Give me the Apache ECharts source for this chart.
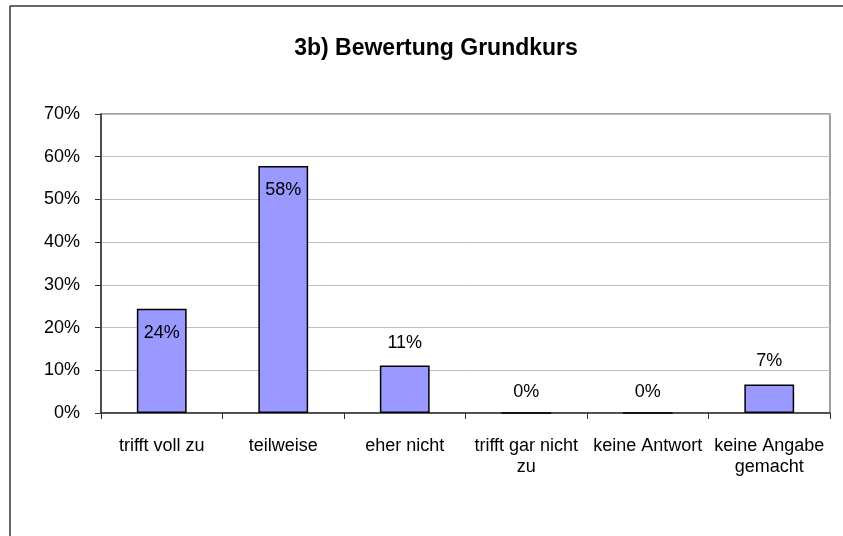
<!DOCTYPE html>
<html>
<head>
<meta charset="utf-8">
<script src="https://cdn.jsdelivr.net/npm/echarts@6/dist/echarts.min.js"></script>
<style>
  html, body { margin: 0; padding: 0; background: #fff; }
  #chart { width: 843px; height: 536px; }
</style>
</head>
<body>
<div id="chart"></div>
<script>
// Daten
const categories = ['trifft voll zu', 'teilweise', 'eher nicht', 'trifft gar nicht\nzu', 'keine Antwort', 'keine Angabe\ngemacht']
const values = [24.4, 57.8, 11.1, 0, 0, 6.7]
const yTicks = [0, 10, 20, 30, 40, 50, 60, 70]

const font = '"Liberation Sans", Arial, sans-serif'

const chart = echarts.init(document.getElementById('chart'))

// große Balken bekommen das Label innen, kleine darüber
const seriesData = values.map(v => ({
  value: v,
  label: v > 20
    ? { position: 'insideTop', distance: 15 }
    : { position: 'top', distance: v > 0 ? 14 : 11 }
}))

const option = {
  animation: false,
  backgroundColor: '#fff',
  title: {
    text: '3b) Bewertung Grundkurs',
    left: 431,
    top: 32,
    textAlign: 'center',
    textStyle: { fontFamily: font, fontSize: 23, fontWeight: 'bold', color: '#000' }
  },
  graphic: [
    { type: 'line', shape: { x1: 10, y1: 6, x2: 843, y2: 6 }, style: { stroke: '#333', lineWidth: 1.5 } },
    { type: 'line', shape: { x1: 10, y1: 6, x2: 10, y2: 536 }, style: { stroke: '#333', lineWidth: 1.5 } }
  ],
  grid: {
    left: 101,
    right: 13,
    top: 114,
    bottom: 123,
    show: true,
    borderColor: '#808080',
    borderWidth: 1.5
  },
  xAxis: {
    type: 'category',
    data: categories,
    axisLine: { lineStyle: { color: '#333', width: 1.5 } },
    axisTick: { show: true, length: 6, lineStyle: { color: '#333' } },
    axisLabel: {
      interval: 0,
      margin: 23,
      fontFamily: font,
      fontSize: 18,
      lineHeight: 21,
      color: '#000'
    }
  },
  yAxis: {
    type: 'value',
    min: yTicks[0],
    max: yTicks[yTicks.length - 1],
    interval: 10,
    axisLine: { show: true, lineStyle: { color: '#333', width: 1.5 } },
    axisTick: { show: true, length: 6, lineStyle: { color: '#333' } },
    axisLabel: {
      margin: 21,
      fontFamily: font,
      fontSize: 18,
      color: '#000',
      formatter: '{value}%'
    },
    splitLine: { lineStyle: { color: '#c0c0c0', width: 1 } }
  },
  series: [{
    type: 'bar',
    data: seriesData,
    barWidth: '41%',
    itemStyle: { color: '#9999FF', borderColor: '#000', borderWidth: 1.5 },
    label: {
      show: true,
      fontFamily: font,
      fontSize: 18,
      color: '#000',
      formatter: p => Math.round(p.value) + '%'
    }
  }]
}

chart.setOption(option)
</script>
</body>
</html>
